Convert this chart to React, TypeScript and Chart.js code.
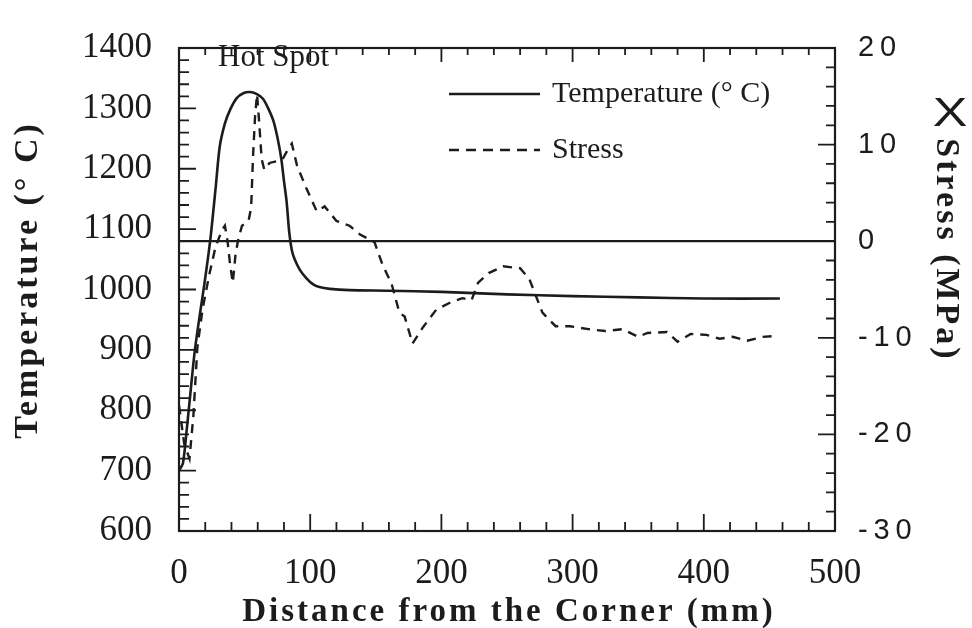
import React, { useEffect, useRef } from 'react';
import { Chart, registerables } from 'chart.js';

Chart.register(...registerables);

// ---- data ----
const tempDistance = [0, 3, 6, 9, 12, 16, 20, 24, 28, 31, 35, 39, 44, 49, 54, 59, 64, 68, 72, 75, 78, 80, 82, 84, 86, 88, 92, 97, 102, 107, 115, 130, 160, 200, 250, 300, 350, 400, 458];
const temperature = [700, 712, 770, 835, 898, 960, 1019, 1085, 1170, 1236, 1275, 1298, 1317, 1325, 1327, 1324, 1316, 1300, 1279, 1252, 1216, 1180, 1146, 1095, 1065, 1051, 1033, 1019, 1009, 1004, 1001, 999, 998, 996, 992, 989, 987, 985, 985];

const stressDistance = [0, 4, 8, 11, 14, 18, 23, 28, 33, 35, 37, 39, 41, 43, 45, 48, 53, 55, 56.5, 58, 59.5, 61, 63, 65, 69, 75, 79, 83, 86, 90, 97, 105, 111, 120, 130, 138, 149, 155, 162, 168, 172, 178, 186, 196, 206, 216, 223, 228, 236, 247, 260, 267, 277, 287, 298, 312, 325, 338, 350, 357, 372, 380, 390, 402, 412, 422, 433, 445, 457];
const stress = [-17, -21, -22.5, -18, -11, -7, -3.5, -0.5, 1.2, 1.6, 0, -2.5, -4.3, -1.5, 0.1, 1.6, 2.1, 3.5, 9, 13, 15.2, 12.5, 8.5, 7.4, 8.1, 8.3, 8.5, 9.5, 10.1, 7.8, 5.5, 3.1, 3.6, 2.1, 1.6, 0.7, -0.1, -2.4, -4.4, -7.4, -7.8, -10.6, -8.9, -7.1, -6.4, -5.9, -6.1, -4.3, -3.3, -2.6, -2.8, -3.9, -7.4, -8.8, -8.8, -9.1, -9.3, -9.1, -9.9, -9.5, -9.4, -10.4, -9.6, -9.7, -10.1, -9.9, -10.3, -9.9, -9.8];

const zeroLineDistance = [0, 500];
const zeroLineStress = [0, 0];

const xTickLabels = [0, 100, 200, 300, 400, 500];
const tempTickLabels = [600, 700, 800, 900, 1000, 1100, 1200, 1300, 1400];
const stressTickLabels = [-30, -20, -10, 0, 10, 20];

const xTitle = 'Distance from the Corner (mm)';
const leftTitle = 'Temperature (° C)';
const rightTitleMark = 'X';
const rightTitle = 'Stress (MPa)';
const legendTemp = 'Temperature (° C)';
const legendStress = 'Stress';
const annotation = 'Hot Spot';

const INK = '#1c1c1c';
const SERIF = '"Liberation Serif", "Times New Roman", serif';
const SANS = '"Liberation Sans", Arial, sans-serif';

const decorPlugin = {
  id: 'decor',
  afterDatasetsDraw(chart: any) {
    const { ctx, chartArea: a, scales } = chart;
    const sx = scales.x, sy = scales.y, sy2 = scales.y2;
    ctx.save();
    ctx.strokeStyle = INK;
    ctx.lineWidth = 2.2;
    ctx.setLineDash([]);
    ctx.strokeRect(a.left, a.top, a.right - a.left, a.bottom - a.top);

    ctx.lineWidth = 1.8;
    ctx.beginPath();
    for (let v = 0; v <= 500; v += 20) {
      const px = sx.getPixelForValue(v);
      const major = v % 100 === 0;
      ctx.moveTo(px, a.bottom);
      ctx.lineTo(px, a.bottom - (major ? 17 : 9));
      ctx.moveTo(px, a.top);
      ctx.lineTo(px, a.top + (major ? 14 : 7));
    }
    for (let v = 600; v <= 1400; v += 20) {
      const py = sy.getPixelForValue(v);
      const major = v % 100 === 0;
      ctx.moveTo(a.left, py);
      ctx.lineTo(a.left + (major ? 17 : 10), py);
    }
    for (let v = -30; v <= 20; v += 2) {
      const py = sy2.getPixelForValue(v);
      const major = v % 10 === 0;
      ctx.moveTo(a.right, py);
      ctx.lineTo(a.right - (major ? 17 : 9), py);
    }
    ctx.stroke();

    // legend
    const lx0 = a.left + 270, lx1 = a.left + 361;
    ctx.lineWidth = 2.5;
    ctx.beginPath();
    ctx.moveTo(lx0, 94);
    ctx.lineTo(lx1, 94);
    ctx.stroke();
    ctx.setLineDash([10, 7]);
    ctx.beginPath();
    ctx.moveTo(lx0, 150);
    ctx.lineTo(lx1, 150);
    ctx.stroke();
    ctx.setLineDash([]);

    ctx.fillStyle = INK;
    ctx.font = `30px ${SERIF}`;
    ctx.textAlign = 'left';
    ctx.textBaseline = 'middle';
    ctx.fillText(legendTemp, lx1 + 12, 94);
    ctx.fillText(legendStress, lx1 + 12, 150);

    ctx.font = `31px ${SERIF}`;
    ctx.textBaseline = 'alphabetic';
    ctx.fillText(annotation, 218, 66);
    ctx.restore();
  },
  afterDraw(chart: any) {
    const { ctx, chartArea: a } = chart;
    ctx.save();
    ctx.fillStyle = INK;
    ctx.textAlign = 'center';
    ctx.textBaseline = 'middle';
    (ctx as any).letterSpacing = '3px';

    // x title
    ctx.font = `bold 33px ${SERIF}`;
    ctx.textBaseline = 'alphabetic';
    ctx.fillText(xTitle, (a.left + a.right) / 2 + 2, 621);

    // left title
    ctx.textBaseline = 'middle';
    ctx.font = `bold 34px ${SERIF}`;
    ctx.save();
    ctx.translate(28, 280);
    ctx.rotate(-Math.PI / 2);
    ctx.fillText(leftTitle, 0, 0);
    ctx.restore();

    // right title
    ctx.save();
    ctx.translate(946, 250);
    ctx.rotate(Math.PI / 2);
    ctx.fillText(rightTitle, 0, 0);
    ctx.restore();

    (ctx as any).letterSpacing = '0px';
    ctx.save();
    ctx.translate(950, 115);
    ctx.scale(1.3, 1);
    ctx.font = `40px ${SANS}`;
    ctx.fillText(rightTitleMark, 0, 0);
    ctx.restore();

    ctx.restore();
  },
};

const plain = (v: any) => String(v);
const spaced = (v: any) => String(v).split('').join('\u2009');

export default function App() {
  const ref = useRef<HTMLCanvasElement | null>(null);

  useEffect(() => {
    if (!ref.current) return;
    const chart = new Chart(ref.current, {
      type: 'line',
      data: {
        datasets: [
          {
            label: 'Temperature (° C)',
            data: tempDistance.map((d, i) => ({ x: d, y: temperature[i] })),
            yAxisID: 'y',
            borderColor: INK,
            borderWidth: 2.6,
            pointRadius: 0,
            tension: 0.25,
            fill: false,
          },
          {
            label: 'Stress',
            data: stressDistance.map((d, i) => ({ x: d, y: stress[i] })),
            yAxisID: 'y2',
            borderColor: INK,
            borderWidth: 2.4,
            borderDash: [9, 7],
            pointRadius: 0,
            tension: 0,
            fill: false,
          },
          {
            label: 'zero',
            data: zeroLineDistance.map((d, i) => ({ x: d, y: zeroLineStress[i] })),
            yAxisID: 'y2',
            borderColor: INK,
            borderWidth: 2.2,
            pointRadius: 0,
            fill: false,
          },
        ],
      },
      options: {
        responsive: false,
        animation: false,
        layout: { padding: { top: 27, left: 0, right: 0, bottom: 0 } },
        plugins: { legend: { display: false }, tooltip: { enabled: false } },
        scales: {
          x: {
            type: 'linear',
            position: 'bottom',
            min: 0,
            max: 500,
            afterBuildTicks: (s: any) => { s.ticks = xTickLabels.map((v) => ({ value: v })); },
            afterFit: (s: any) => { s.height = 97; },
            grid: { display: false, drawTicks: false },
            border: { display: false },
            ticks: { autoSkip: false, maxRotation: 0, padding: 22, color: INK, font: { family: SERIF, size: 35 }, callback: plain },
          },
          y: {
            type: 'linear',
            position: 'left',
            min: 600,
            max: 1400,
            afterBuildTicks: (s: any) => { s.ticks = tempTickLabels.map((v) => ({ value: v })); },
            afterFit: (s: any) => { s.width = 179; },
            grid: { display: false, drawTicks: false },
            border: { display: false },
            ticks: { autoSkip: false, padding: 27, color: INK, font: { family: SERIF, size: 35 }, callback: plain },
          },
          y2: {
            type: 'linear',
            position: 'right',
            min: -30,
            max: 20,
            afterBuildTicks: (s: any) => { s.ticks = stressTickLabels.map((v) => ({ value: v })); },
            afterFit: (s: any) => { s.width = 137; },
            grid: { display: false, drawTicks: false },
            border: { display: false },
            ticks: { autoSkip: false, padding: 23, color: INK, font: { family: SANS, size: 29 }, callback: spaced },
          },
        },
      },
      plugins: [decorPlugin],
    } as any);
    return () => chart.destroy();
  }, []);

  return (
    <div style={{ position: 'absolute', left: 0, top: 0, width: 972, height: 628, background: '#fff' }}>
      <canvas ref={ref} width={972} height={628} />
    </div>
  );
}
